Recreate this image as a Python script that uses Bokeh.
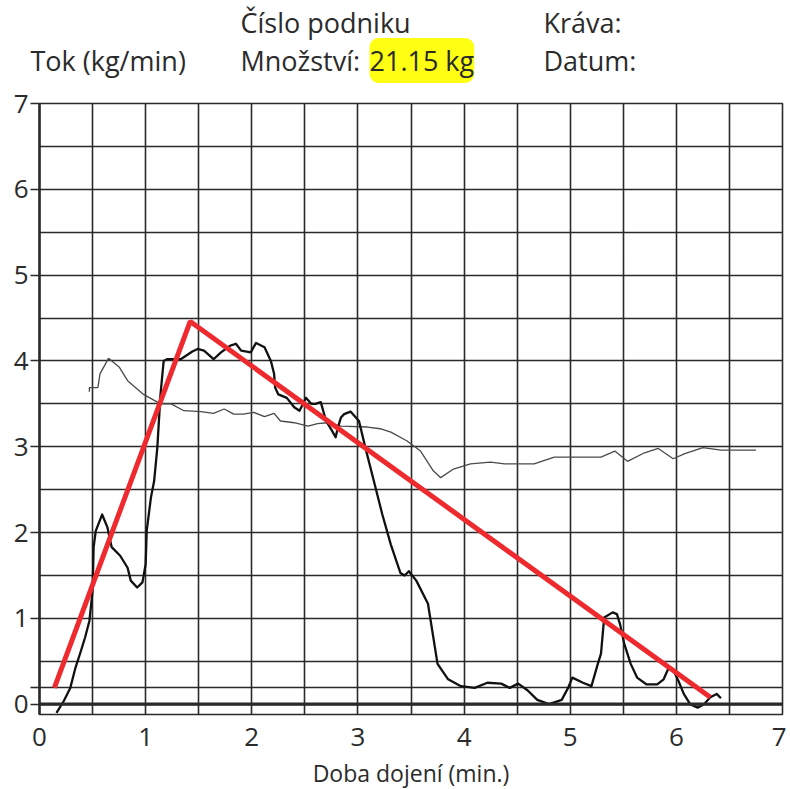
from bokeh.plotting import figure
from bokeh.models import FixedTicker, Label, Span
from bokeh.embed import file_html
from bokeh.resources import INLINE

# ---- data ----
flow_x = [0.16, 0.23, 0.29, 0.34, 0.39, 0.43, 0.47, 0.50, 0.51, 0.53, 0.59, 0.64, 0.68, 0.76, 0.83,
          0.86, 0.92, 0.97, 1.00, 1.01, 1.05, 1.08, 1.11, 1.14, 1.17, 1.20, 1.33, 1.38, 1.44, 1.49,
          1.55, 1.64, 1.71, 1.80, 1.85, 1.90, 1.99, 2.04, 2.12, 2.18, 2.21, 2.22, 2.25, 2.33, 2.40,
          2.45, 2.51, 2.56, 2.60, 2.65, 2.70, 2.75, 2.79, 2.81, 2.84, 2.87, 2.93, 3.01, 3.07, 3.15,
          3.23, 3.31, 3.40, 3.44, 3.48, 3.55, 3.66, 3.75, 3.85, 3.97, 4.10, 4.22, 4.35, 4.43, 4.51,
          4.60, 4.69, 4.80, 4.92, 4.98, 5.02, 5.12, 5.20, 5.26, 5.29, 5.32, 5.40, 5.44, 5.47, 5.51,
          5.57, 5.63, 5.72, 5.82, 5.88, 5.93, 5.97, 6.02, 6.07, 6.13, 6.20, 6.26, 6.32, 6.38, 6.42]
flow_y = [-0.10, 0.04, 0.19, 0.43, 0.62, 0.78, 0.97, 1.32, 1.83, 2.02, 2.21, 2.06, 1.83, 1.73, 1.59,
          1.44, 1.36, 1.42, 1.63, 2.02, 2.41, 2.60, 2.99, 3.61, 4.00, 4.02, 4.02, 4.06, 4.11, 4.14,
          4.12, 4.02, 4.10, 4.18, 4.20, 4.12, 4.10, 4.21, 4.16, 4.00, 3.85, 3.69, 3.61, 3.57, 3.46,
          3.42, 3.57, 3.50, 3.50, 3.52, 3.30, 3.20, 3.11, 3.22, 3.34, 3.38, 3.41, 3.30, 2.99, 2.60,
          2.21, 1.86, 1.53, 1.50, 1.55, 1.44, 1.17, 0.47, 0.29, 0.21, 0.19, 0.25, 0.24, 0.19, 0.24,
          0.16, 0.05, 0.00, 0.05, 0.19, 0.31, 0.25, 0.21, 0.47, 0.59, 1.01, 1.07, 1.05, 0.93, 0.70,
          0.47, 0.31, 0.23, 0.23, 0.29, 0.43, 0.40, 0.27, 0.12, 0.00, -0.04, 0.00, 0.08, 0.12, 0.07]

avg_x = [0.47, 0.47, 0.55, 0.57, 0.65, 0.75, 0.83, 0.98, 1.14, 1.24, 1.36, 1.52, 1.64, 1.74, 1.83, 1.92,
         2.02, 2.12, 2.21, 2.27, 2.40, 2.53, 2.62, 2.71, 2.84, 3.09, 3.21, 3.31, 3.46, 3.59, 3.71,
         3.78, 3.90, 4.06, 4.25, 4.38, 4.55, 4.60, 4.66, 4.85, 5.01, 5.29, 5.42, 5.54, 5.70, 5.83,
         5.97, 6.08, 6.25, 6.42, 6.75]
avg_y = [3.64, 3.69, 3.69, 3.85, 4.03, 3.93, 3.77, 3.61, 3.50, 3.50, 3.42, 3.41, 3.39, 3.44, 3.38, 3.38,
         3.40, 3.35, 3.39, 3.30, 3.28, 3.24, 3.27, 3.28, 3.24, 3.23, 3.21, 3.17, 3.07, 2.95, 2.72,
         2.64, 2.74, 2.80, 2.82, 2.80, 2.80, 2.80, 2.80, 2.88, 2.88, 2.88, 2.95, 2.83, 2.93, 2.98,
         2.86, 2.92, 2.99, 2.96, 2.96]

trend_x = [0.14, 1.42, 6.32]
trend_y = [0.19, 4.46, 0.08]

x_ticks = [0, 1, 2, 3, 4, 5, 6, 7]
y_ticks = [0, 1, 2, 3, 4, 5, 6, 7]
grid_x = [i * 0.5 for i in range(15)]
grid_y = [0, 0.2] + [i * 0.5 for i in range(1, 15)]

FONT = "Open Sans"
TXT = "#2b2b2b"
GRID = "#2a2a2a"
W = 786
HEAD_H = 83

# ---- header (texts above the chart), its own root so frames are not aligned ----
h = figure(width=W, height=HEAD_H, output_backend="svg", toolbar_location=None,
           x_range=(0, W), y_range=(HEAD_H, 0), min_border=0,
           x_axis_type=None, y_axis_type=None)
h.outline_line_color = None
h.xgrid.visible = False
h.ygrid.visible = False


def lab(text, px, py, size="27px", **kw):
    h.add_layout(Label(x=px, y=py, text=text, text_font=FONT, text_font_size=size,
                       text_color=TXT, text_align="left", text_baseline="middle", **kw))


lab("Tok (kg/min)", 30, 60)
lab("Číslo podniku", 240, 22)
lab("Množství:", 240, 60)
lab("21.15 kg", 369, 60, background_fill_color="#ffff14", padding=(0, 4), border_radius=9)
lab("Kráva:", 543, 22)
lab("Datum:", 543, 60)

# ---- main chart ----
p = figure(width=W, height=789 - HEAD_H - 1, output_backend="svg", toolbar_location=None,
           x_range=(0, 7), y_range=(-0.12, 7),
           frame_width=743, frame_height=611,
           min_border_left=39, min_border_right=4, min_border_top=20, min_border_bottom=74)
p.outline_line_color = GRID
p.outline_line_width = 1.6

p.xgrid.ticker = FixedTicker(ticks=grid_x)
p.ygrid.ticker = FixedTicker(ticks=grid_y)
for g in (p.xgrid, p.ygrid):
    g.grid_line_color = GRID
    g.grid_line_width = 1.6
    g.grid_line_alpha = 1.0

xa = p.xaxis[0]
xa.ticker = FixedTicker(ticks=x_ticks)
xa.axis_line_color = None
xa.major_tick_line_color = None
xa.minor_tick_line_color = None
xa.major_label_standoff = 7
xa.major_label_text_font = FONT
xa.major_label_text_font_size = "26px"
xa.major_label_text_color = TXT
xa.axis_label = "Doba dojení (min.)"
xa.axis_label_text_font = FONT
xa.axis_label_text_font_size = "23px"
xa.axis_label_text_font_style = "normal"
xa.axis_label_text_color = TXT
xa.axis_label_standoff = 8

ya = p.yaxis[0]
ya.ticker = FixedTicker(ticks=y_ticks, minor_ticks=[0.2])
ya.axis_line_color = GRID
ya.axis_line_width = 2.5
ya.major_tick_line_color = GRID
ya.major_tick_line_width = 1.6
ya.major_tick_out = 9
ya.major_tick_in = 0
ya.minor_tick_line_color = GRID
ya.minor_tick_line_width = 1.6
ya.minor_tick_out = 9
ya.minor_tick_in = 0
ya.major_label_standoff = 2
ya.major_label_text_font = FONT
ya.major_label_text_font_size = "26px"
ya.major_label_text_color = TXT

p.add_layout(Span(location=0, dimension="width", line_color=GRID, line_width=3.2))

p.line(avg_x, avg_y, line_color="#4a4a4a", line_width=1.3)
p.line(flow_x, flow_y, line_color="#111111", line_width=2.3, line_join="round")
p.line(trend_x, trend_y, line_color="#ee2a2f", line_width=5)

open("out.html", "w").write(file_html([h, p], INLINE))
